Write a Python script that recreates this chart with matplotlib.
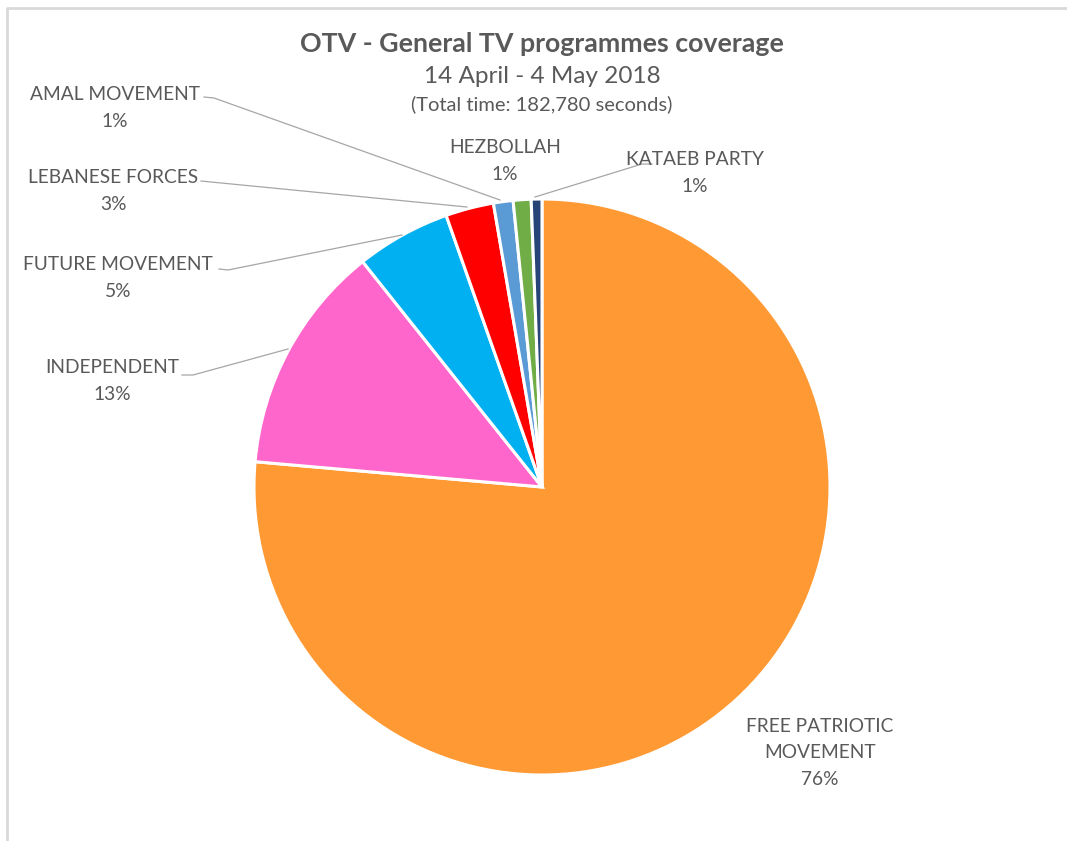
import matplotlib.pyplot as plt
from matplotlib.lines import Line2D

plt.rcParams['font.family'] = ['Lato', 'DejaVu Sans']

# Share of coverage time (%)
parties = ['FREE PATRIOTIC\nMOVEMENT', 'INDEPENDENT', 'FUTURE MOVEMENT', 'LEBANESE FORCES',
           'AMAL MOVEMENT', 'HEZBOLLAH', 'KATAEB PARTY']
shares = [76.4, 12.9, 5.3, 2.7, 1.1, 1.0, 0.6]
pct_labels = ['76%', '13%', '5%', '3%', '1%', '1%', '1%']
colors = ['#FF9933', '#FF66CC', '#00B0F0', '#FF0000', '#5B9BD5', '#70AD47', '#264478']

W, H = 1067, 841
fig = plt.figure(figsize=(W / 100, H / 100), dpi=100)
ax = fig.add_axes([0, 0, 1, 1])

# pixel-like coordinates, y measured upward
cx, cy, r = 542, H - 487, 288
ax.pie(shares, colors=colors, startangle=90, counterclock=False,
       center=(cx, cy), radius=r,
       wedgeprops=dict(edgecolor='white', linewidth=2.2))
ax.set_xlim(0, W)
ax.set_ylim(0, H)
ax.set_aspect('equal')
ax.axis('off')

txt = '#595959'
line_c = '#A6A6A6'

# label text centre (x, y from top), leader line points (from top) or None
label_pos = [
    (820, 753, None),
    (112, 381, [(182, 375), (193, 375), (288, 349)]),
    (118, 278, [(219, 269), (228, 270), (402, 235)]),
    (113, 191, [(201, 181), (211, 182), (467, 207)]),
    (115, 108, [(204, 97), (214, 98), (500, 200)]),
    (505, 161, None),
    (695, 173, [(652, 164), (642, 164), (535, 197)]),
]

for name, pct, (lx, ly, pts) in zip(parties, pct_labels, label_pos):
    ax.text(lx, H - ly, name + '\n' + pct, ha='center', va='center',
            fontsize=13.8, color=txt, linespacing=1.68)
    if pts:
        xs = [p[0] for p in pts]
        ys = [H - p[1] for p in pts]
        ax.add_line(Line2D(xs, ys, color=line_c, linewidth=0.9))

# titles
ax.text(cx, H - 44, 'OTV - General TV programmes coverage', ha='center', va='center',
        fontsize=19.3, fontweight='bold', color=txt)
ax.text(cx, H - 76, '14 April - 4 May 2018', ha='center', va='center',
        fontsize=17.5, color=txt)
ax.text(cx, H - 104, '(Total time: 182,780 seconds)', ha='center', va='center',
        fontsize=14.5, color=txt)

# light frame (left and top edges visible)
ax.add_line(Line2D([7, 7, W], [0, H - 8, H - 8], color='#D9D9D9', linewidth=2))

fig.savefig('out.png', dpi=100)
